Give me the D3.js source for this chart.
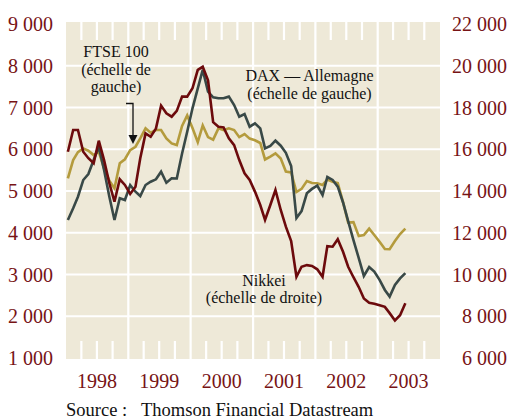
<!DOCTYPE html>
<html>
<head>
<meta charset="utf-8">
<script src="https://cdn.jsdelivr.net/npm/d3@7"></script>
<style>
  body { margin: 0; background: #fff; }
  svg { display: block; }
  text { font-family: "Liberation Serif", "Times New Roman", serif; }
</style>
</head>
<body>
<div id="chart"></div>
<script>
// monthly closes, Jan 1998 -> Jun 2003
var startYear = 1998, startMonth = 0;

var ftse = [5300, 5740, 5930, 6020, 5965, 5860, 5935, 5545, 5245, 5065,
            5665, 5760, 5980, 6060, 6260, 6500, 6395, 6460, 6460, 6260,
            6140, 6100, 6560, 6810, 6510, 6170, 6570, 6290, 6230, 6500,
            6460, 6500, 6460, 6290, 6365, 6255, 6215, 6150, 5755, 5825,
            5900, 5780, 5465, 5445, 4975, 5050, 5240, 5190, 5185, 5145,
            5275, 5220, 5190, 4735, 4245, 4255, 3920, 3945, 4100, 3945,
            3785, 3610, 3605, 3800, 3970, 4100];

var dax = [4305, 4585, 4863, 5263, 5407, 5742, 6061, 5503, 4863, 4305,
           4825, 4784, 5143, 4983, 4880, 5143, 5222, 5280, 5462, 5198,
           5304, 5300, 5900, 6420, 6980, 7460, 7900, 7380, 7245, 7220,
           7220, 7260, 7060, 6780, 6845, 6540, 6620, 6500, 6020, 6080,
           6205, 6085, 5915, 5600, 4355, 4520, 4945, 5050, 5130, 4905,
           5335, 5265, 5105, 4725, 4280, 3825, 3395, 2965, 3180, 3070,
           2870, 2630, 2470, 2750, 2905, 3035];

var nikkei = [15880, 16920, 16920, 15880, 15570, 15330, 16410, 15480, 14370, 13490,
              14560, 14290, 13860, 14200, 15570, 16760, 16600, 17000, 18090, 17720,
              17560, 17840, 18520, 18520, 18920, 19800, 19950, 19300, 17300, 17080,
              17050, 16520, 16200, 15480, 14850, 14530, 13970, 13330, 12610, 13330,
              14050, 13090, 12290, 11600, 9890, 10370, 10450, 10410, 10250, 9890,
              11360, 11330, 11690, 11090, 10370, 9870, 9400, 8850, 8650, 8600,
              8530, 8450, 8150, 7800, 8050, 8620];

var years = [1998, 1999, 2000, 2001, 2002, 2003];
var leftTicks = [1000, 2000, 3000, 4000, 5000, 6000, 7000, 8000, 9000];
var rightTicks = [6000, 8000, 10000, 12000, 14000, 16000, 18000, 20000, 22000];

var width = 510, height = 419;
var plotL = 66, plotR = 440, plotT = 22, plotB = 359;
var bg = "#eee9d8", red = "#771315";

var months = ftse.map(function(d, i) { return new Date(startYear, startMonth + i, 12); });

var x = d3.scaleTime()
    .domain([new Date(1998, 0, 1), new Date(2004, 0, 1)])
    .range([plotL, plotR]);
var yL = d3.scaleLinear().domain([1000, 9000]).range([358, 24]);
var yR = d3.scaleLinear().domain([6000, 22000]).range([358, 24]);

var fmt = function(d) { return Math.floor(d / 1000) + " 000"; };

var svg = d3.select("#chart").append("svg")
    .attr("width", width)
    .attr("height", height);

svg.append("rect")
    .attr("x", plotL).attr("y", plotT)
    .attr("width", plotR - plotL).attr("height", plotB - plotT)
    .style("fill", bg);

// horizontal grid
svg.selectAll("line.hgrid")
    .data(leftTicks.slice(1, -1))
    .enter().append("line")
        .attr("class", "hgrid")
        .attr("x1", plotL).attr("x2", plotR)
        .attr("y1", function(d) { return yL(d); })
        .attr("y2", function(d) { return yL(d); })
        .style("stroke", "#fff").style("stroke-width", 2.2);

// year boundaries
svg.selectAll("line.vgrid")
    .data(years.slice(1))
    .enter().append("line")
        .attr("class", "vgrid")
        .attr("x1", function(d) { return x(new Date(d, 0, 1)); })
        .attr("x2", function(d) { return x(new Date(d, 0, 1)); })
        .attr("y1", plotT).attr("y2", plotB)
        .style("stroke", "#fff").style("stroke-width", 2.2);

// quarter ticks top and bottom
var quarters = d3.timeMonth.every(3).range(new Date(1998, 1, 1), new Date(2004, 0, 1))
    .filter(function(d) { return d.getMonth() !== 0; });
[[plotT, plotT + 18], [plotB - 18, plotB]].forEach(function(r) {
  svg.selectAll(null)
      .data(quarters)
      .enter().append("line")
          .attr("x1", function(d) { return x(d); })
          .attr("x2", function(d) { return x(d); })
          .attr("y1", r[0]).attr("y2", r[1])
          .style("stroke", "#fff").style("stroke-width", 2.2);
});

// lines
var series = [
  {values: ftse, scale: yL, color: "#b49b3d"},
  {values: dax, scale: yL, color: "#394947"},
  {values: nikkei, scale: yR, color: "#6c0a0c"}
];
series.forEach(function(s) {
  var line = d3.line()
      .x(function(d, i) { return x(months[i]); })
      .y(function(d) { return s.scale(d); });
  svg.append("path")
      .datum(s.values)
      .attr("d", line)
      .style("fill", "none")
      .style("stroke", s.color)
      .style("stroke-width", 2.6)
      .style("stroke-linejoin", "miter");
});

// axis labels
svg.selectAll("text.yl")
    .data(leftTicks)
    .enter().append("text")
        .attr("class", "yl")
        .attr("x", 53)
        .attr("y", function(d) { return yL(d); })
        .attr("dy", "0.35em")
        .attr("text-anchor", "end")
        .style("fill", red).style("font-size", "20px")
        .text(fmt);

svg.selectAll("text.yr")
    .data(rightTicks)
    .enter().append("text")
        .attr("class", "yr")
        .attr("x", 507)
        .attr("y", function(d) { return yR(d); })
        .attr("dy", "0.35em")
        .attr("text-anchor", "end")
        .style("fill", red).style("font-size", "20px")
        .text(fmt);

svg.selectAll("text.year")
    .data(years)
    .enter().append("text")
        .attr("class", "year")
        .attr("x", function(d) { return x(new Date(d, 6, 1)); })
        .attr("y", 388)
        .attr("text-anchor", "middle")
        .style("fill", red).style("font-size", "20px")
        .text(function(d) { return d; });

// annotations
function label(lines, cx, y0, lh) {
  var t = svg.append("text")
      .attr("text-anchor", "middle")
      .style("fill", "#111").style("font-size", "16px");
  lines.forEach(function(s, i) {
    t.append("tspan").attr("x", cx).attr("y", y0 + i * lh).text(s);
  });
}
label(["FTSE 100", "(échelle de", "gauche)"], 116, 57, 17.5);
label(["DAX \u2014 Allemagne", "(échelle de gauche)"], 309.5, 81, 17.5);
label(["Nikkei", "(échelle de droite)"], 264, 286, 17);

svg.append("path")
    .attr("d", "M126,103.5H133V136")
    .style("fill", "none").style("stroke", "#111").style("stroke-width", 1.3);
svg.append("path")
    .attr("d", "M128.5,135L137.5,135L133,144Z")
    .style("fill", "#111");

svg.append("text")
    .attr("x", 66).attr("y", 416)
    .style("fill", "#111").style("font-size", "18.5px")
    .text("Source :")
svg.append("text")
    .attr("x", 141).attr("y", 416)
    .style("fill", "#111").style("font-size", "18.5px")
    .text("Thomson Financial Datastream");
</script>
</body>
</html>
